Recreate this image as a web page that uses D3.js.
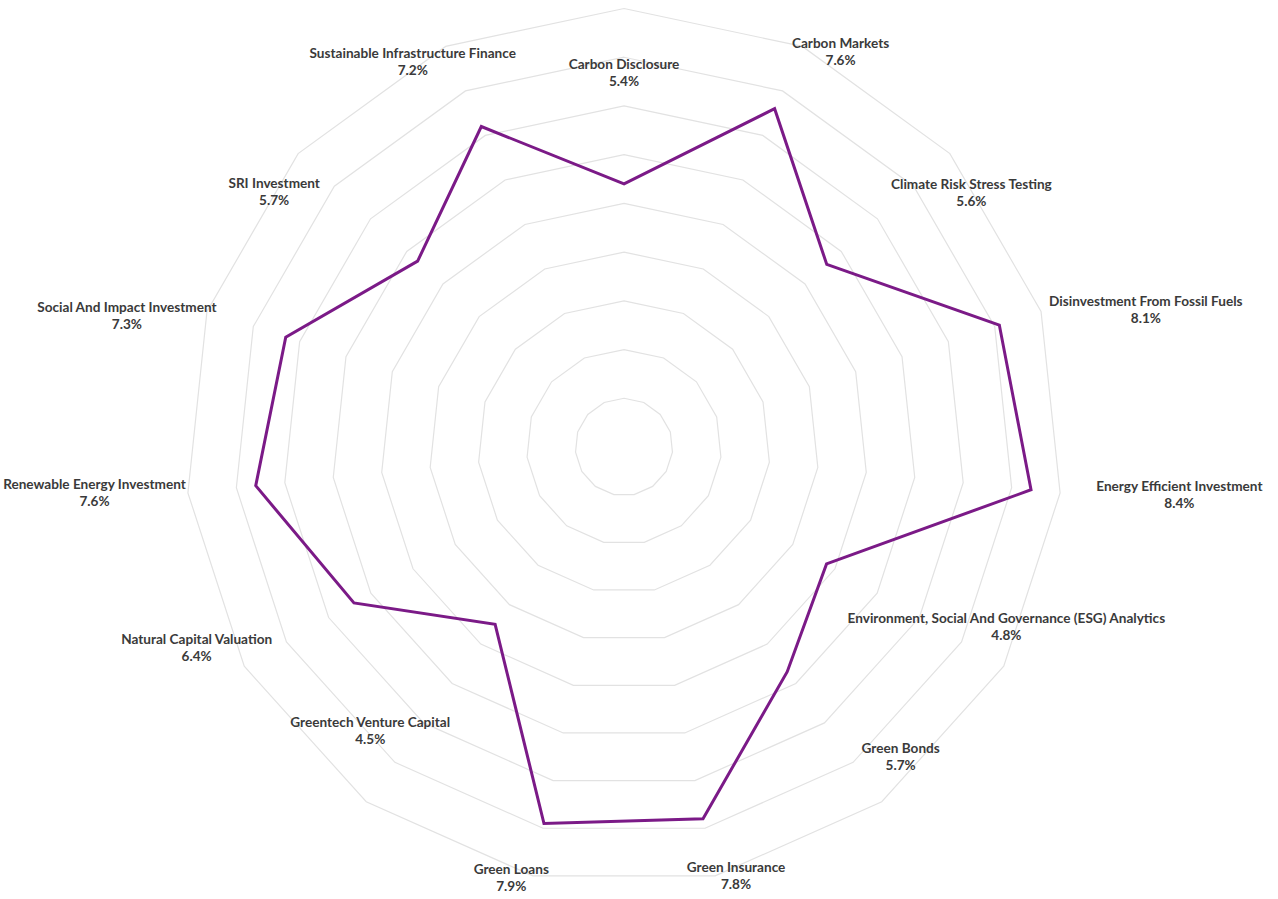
<!DOCTYPE html>
<html>
<head>
<meta charset="utf-8">
<script src="https://cdn.jsdelivr.net/npm/d3@7"></script>
<style>
  html, body { margin: 0; padding: 0; background: #ffffff; }
  svg { display: block; }
</style>
</head>
<body>
<svg id="chart" width="1278" height="899"></svg>
<script>
const categories = [
  "Carbon Disclosure",
  "Carbon Markets",
  "Climate Risk Stress Testing",
  "Disinvestment From Fossil Fuels",
  "Energy Efficient Investment",
  "Environment, Social And Governance (ESG) Analytics",
  "Green Bonds",
  "Green Insurance",
  "Green Loans",
  "Greentech Venture Capital",
  "Natural Capital Valuation",
  "Renewable Energy Investment",
  "Social And Impact Investment",
  "SRI Investment",
  "Sustainable Infrastructure Finance"
];
const values = [5.4, 7.6, 5.6, 8.1, 8.4, 4.8, 5.7, 7.8, 7.9, 4.5, 6.4, 7.6, 7.3, 5.7, 7.2];
const gridLevels = [1, 2, 3, 4, 5, 6, 7, 8, 9];

const cx = 624, cy = 447, R = 438.5;
const svg = d3.select("#chart");

const n = categories.length;
const angle = d3.scaleLinear().domain([0, n]).range([0, 2 * Math.PI]);
const r = d3.scaleLinear().domain([0, 9]).range([0, R]);

const g = svg.append("g").attr("transform", `translate(${cx},${cy})`);

const lineRadial = d3.lineRadial()
  .angle((d, i) => angle(i))
  .radius(d => r(d))
  .curve(d3.curveLinearClosed);

// grid polygons
g.append("g").selectAll("path")
  .data(gridLevels)
  .join("path")
  .attr("d", lv => lineRadial(categories.map(() => lv)))
  .attr("fill", "none")
  .attr("stroke", "#e2e2e2")
  .attr("stroke-width", 1.2);

// data line
g.append("path")
  .attr("d", lineRadial(values))
  .attr("fill", "none")
  .attr("stroke", "#7b1a87")
  .attr("stroke-width", 3)
  .attr("stroke-linejoin", "miter");

// labels placed on an ellipse whose size grows with the value
const labelScale = d3.scaleLinear().domain([0, 9]).range([0.51, 1.032]);
const ellA = 560, ellB = 455;

const labels = g.append("g")
  .attr("font-family", "Lato, 'Open Sans', sans-serif")
  .attr("font-weight", "bold")
  .attr("font-size", "13.6px")
  .attr("fill", "#3a3a3a")
  .attr("text-anchor", "middle");

categories.forEach((c, i) => {
  const t = labels.append("text");
  t.append("tspan").attr("x", 0).attr("dy", 0).text(c);
  t.append("tspan").attr("x", 0).attr("dy", 17).text(d3.format(".1f")(values[i]) + "%");
  const bb = t.node().getBBox();
  const a = angle(i);
  const k = labelScale(values[i]);
  const px = Math.sin(a) * ellA * k;
  const py = -Math.cos(a) * ellB * k;
  const bcx = bb.x + bb.width / 2, bcy = bb.y + bb.height / 2;
  t.attr("transform", `translate(${px - bcx},${py - bcy})`);
});
</script>
</body>
</html>
